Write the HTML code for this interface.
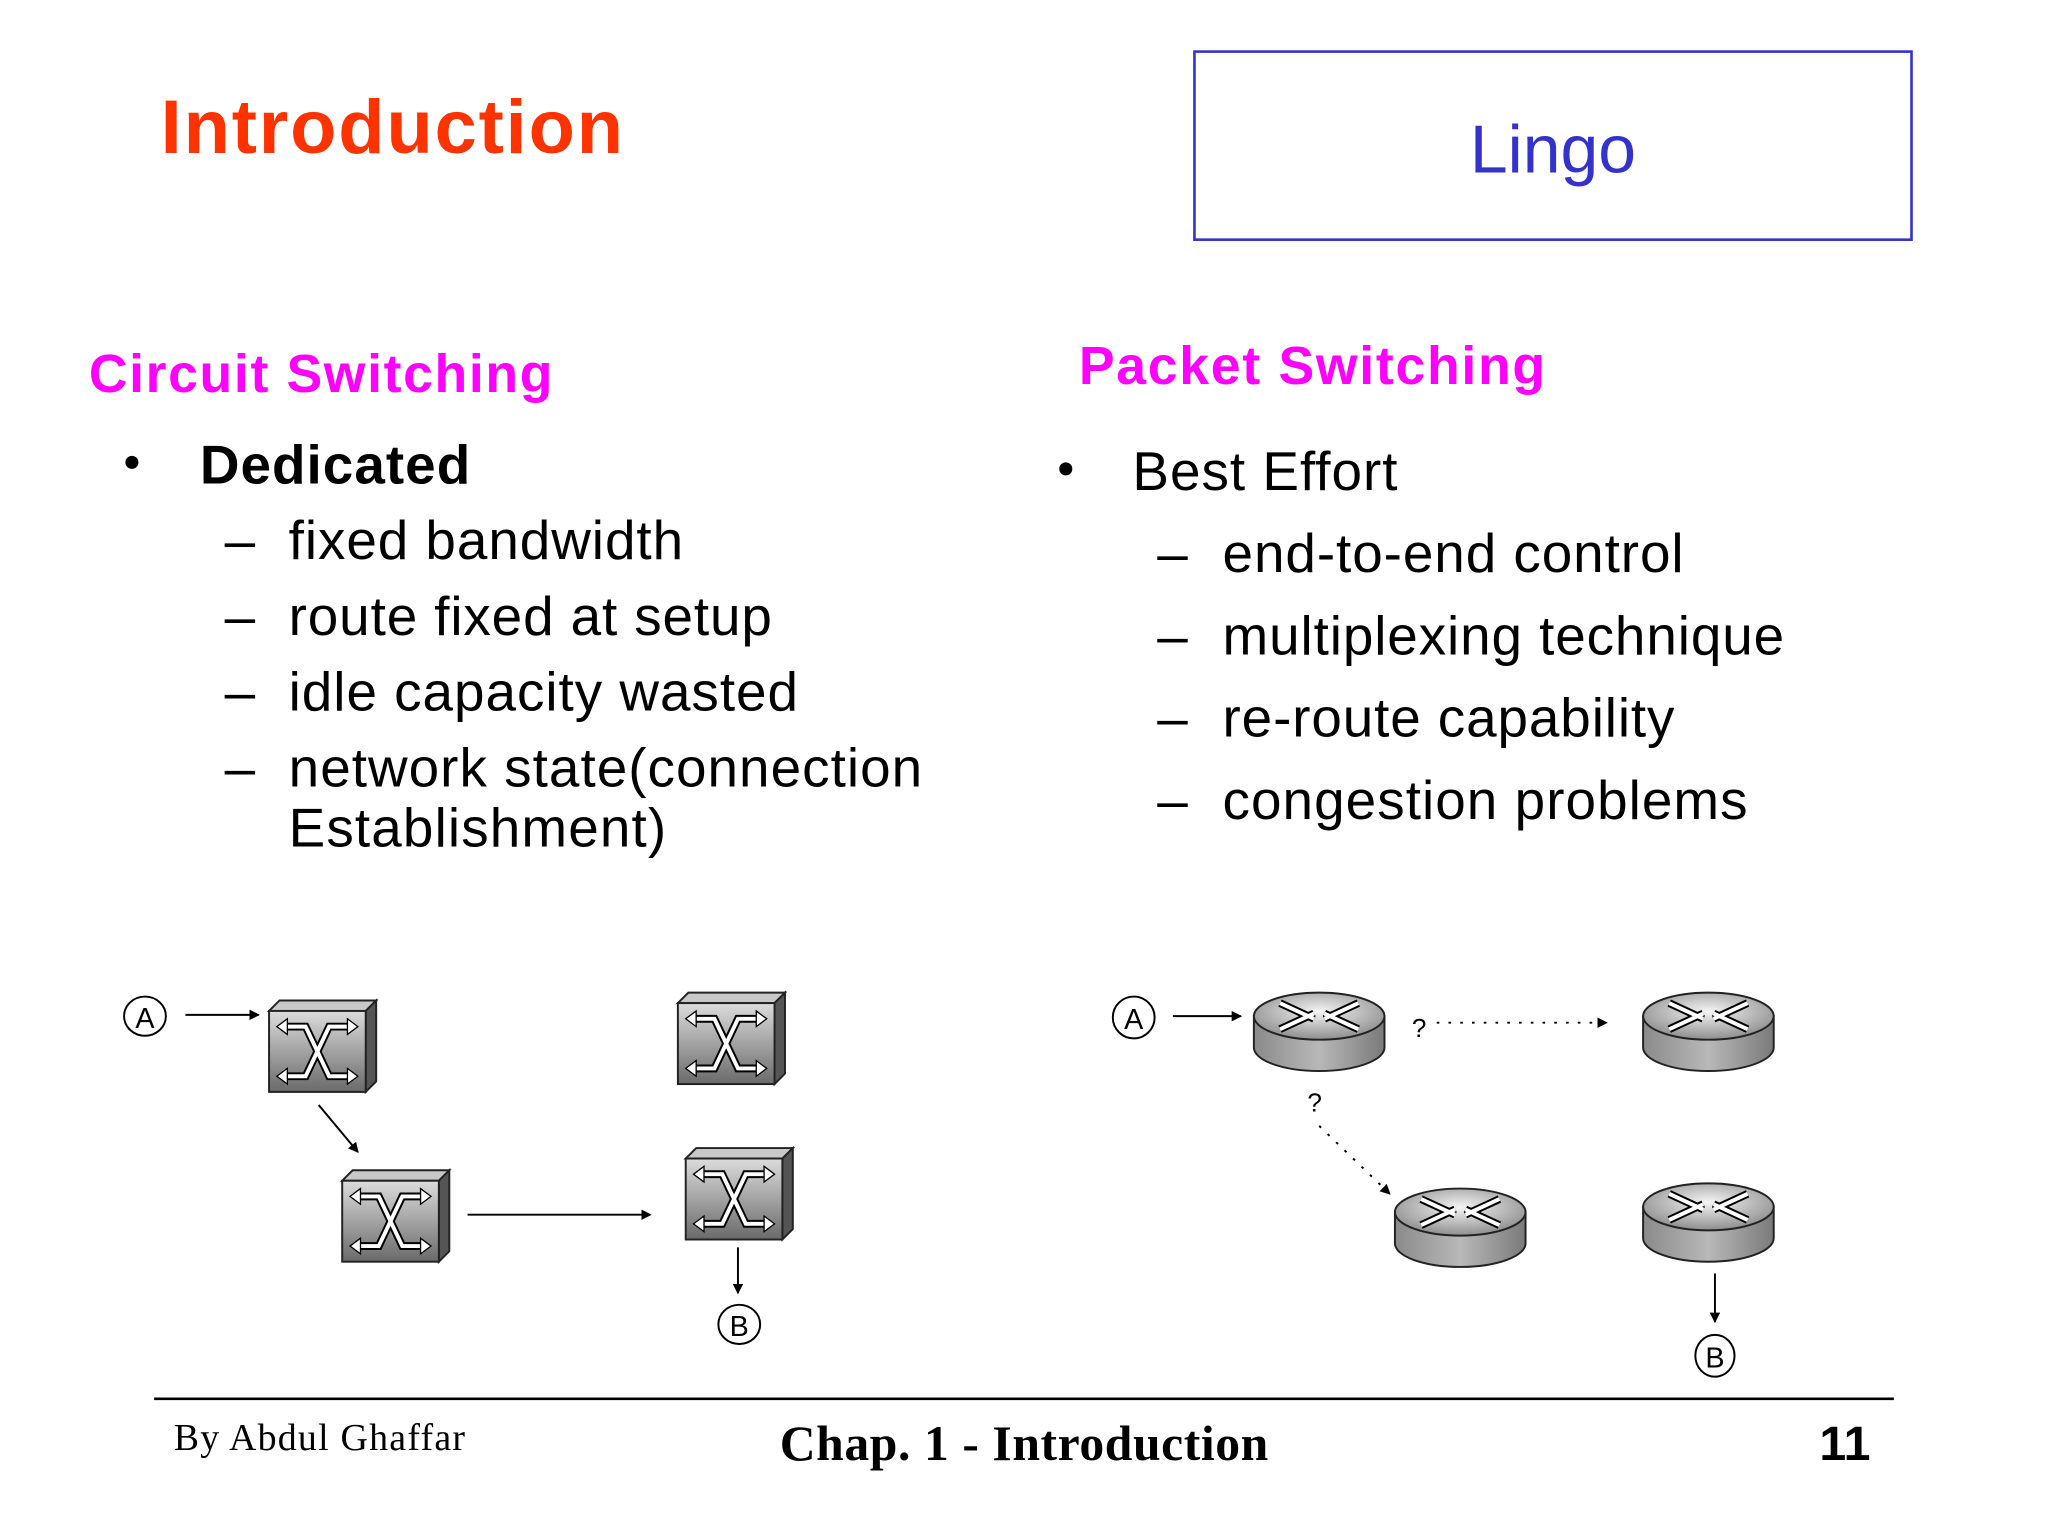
<!DOCTYPE html>
<html><head><meta charset="utf-8"><style>html,body{margin:0;padding:0;background:#fff}svg{display:block}</style></head>
<body>
<svg width="2048" height="1536" viewBox="0 0 1568 1176" xmlns="http://www.w3.org/2000/svg" font-family="Liberation Sans, sans-serif">
<defs>
<linearGradient id="sw" x1="0" y1="0" x2="0" y2="1"><stop offset="0" stop-color="#dcdcdc"/><stop offset="1" stop-color="#6a6a6a"/></linearGradient>
<linearGradient id="cyl" x1="0" y1="0" x2="1" y2="0"><stop offset="0" stop-color="#8a8a8a"/><stop offset="0.5" stop-color="#b8b8b8"/><stop offset="1" stop-color="#7a7a7a"/></linearGradient>
<radialGradient id="top" cx="0.5" cy="0.4" r="0.6"><stop offset="0" stop-color="#f4f4f4"/><stop offset="1" stop-color="#8e8e8e"/></radialGradient>
<marker id="ar" markerWidth="8" markerHeight="8" refX="7" refY="4" orient="auto" markerUnits="userSpaceOnUse"><path d="M0,0 L8,4 L0,8 z" fill="#000"/></marker>
<g id="switch">
<path d="M0,8 L8,0 L82,0 L74,8 z" fill="#c8c8c8" stroke="#222" stroke-width="1.5"/>
<path d="M74,8 L82,0 L82,62 L74,70 z" fill="#555" stroke="#222" stroke-width="1.5"/>
<rect x="0" y="8" width="74" height="62" fill="url(#sw)" stroke="#222" stroke-width="1.5"/>
<path d="M12,20 L28,20 L46,58 L62,58 M12,58 L28,58 L46,20 L62,20" fill="none" stroke="#000" stroke-width="6"/>
<path d="M12,20 L28,20 L46,58 L62,58 M12,58 L28,58 L46,20 L62,20" fill="none" stroke="#fff" stroke-width="3"/>
<path d="M6,20 l8,-6 v12 z M68,20 l-8,-6 v12 z M6,58 l8,-6 v12 z M68,58 l-8,-6 v12 z" fill="#fff" stroke="#000" stroke-width="1"/>
</g>
<g id="router">
<path d="M0,20 L0,44 A50,18 0 0 0 100,44 L100,20 z" fill="url(#cyl)" stroke="#222" stroke-width="1.5"/>
<ellipse cx="50" cy="20" rx="50" ry="18" fill="url(#top)" stroke="#222" stroke-width="1.5"/>
<path d="M20,10 L46,22 M80,30 L54,18 M20,30 L46,18 M80,10 L54,22" stroke="#000" stroke-width="6"/>
<path d="M20,10 L46,22 M80,30 L54,18 M20,30 L46,18 M80,10 L54,22" stroke="#fff" stroke-width="3"/>
</g>
</defs>
<rect width="1568" height="1176" fill="#fff"/>
<text x="123" y="117" font-size="58" font-weight="bold" fill="#ff3300" textLength="354">Introduction</text>
<rect x="914.5" y="39.5" width="549" height="144" fill="none" stroke="#3333cc" stroke-width="2"/>
<text x="1189" y="132" font-size="52" fill="#3333cc" text-anchor="middle">Lingo</text>
<text x="68" y="300" font-size="41" font-weight="bold" fill="#ff00ff" textLength="355">Circuit Switching</text>
<text x="826" y="294" font-size="41" font-weight="bold" fill="#ff00ff" textLength="357">Packet Switching</text>
<g font-size="42" fill="#000">
<circle cx="101" cy="354" r="5"/>
<text x="153" y="370" font-weight="bold" textLength="207">Dedicated</text>
<text x="172" y="428">–</text><text x="221" y="428" textLength="302">fixed bandwidth</text>
<text x="172" y="486">–</text><text x="221" y="486" textLength="370">route fixed at setup</text>
<text x="172" y="544">–</text><text x="221" y="544" textLength="390">idle capacity wasted</text>
<text x="172" y="602">–</text><text x="221" y="602" textLength="485">network state(connection</text>
<text x="221" y="648" textLength="289">Establishment)</text>
<circle cx="816" cy="359" r="5"/>
<text x="867" y="375" textLength="203">Best Effort</text>
<text x="886" y="438">–</text><text x="936" y="438" textLength="353">end-to-end control</text>
<text x="886" y="501">–</text><text x="936" y="501" textLength="430">multiplexing technique</text>
<text x="886" y="564">–</text><text x="936" y="564" textLength="346">re-route capability</text>
<text x="886" y="627">–</text><text x="936" y="627" textLength="402">congestion problems</text>
</g>
<use href="#switch" x="206" y="766"/>
<use href="#switch" x="519" y="760"/>
<use href="#switch" x="262" y="896"/>
<use href="#switch" x="525" y="879"/>
<g fill="none" stroke="#000" stroke-width="1.5">
<ellipse cx="111" cy="778" rx="16" ry="15"/>
<ellipse cx="566" cy="1014" rx="16" ry="15"/>
<line x1="142" y1="777" x2="198" y2="777" marker-end="url(#ar)"/>
<line x1="244" y1="846" x2="274" y2="882" marker-end="url(#ar)"/>
<line x1="358" y1="930" x2="498" y2="930" marker-end="url(#ar)"/>
<line x1="565" y1="955" x2="565" y2="990" marker-end="url(#ar)"/>
</g>
<text x="111" y="787" font-size="22" text-anchor="middle">A</text>
<text x="566" y="1023" font-size="22" text-anchor="middle">B</text>
<use href="#router" x="960" y="758"/>
<use href="#router" x="1258" y="758"/>
<use href="#router" x="1068" y="908"/>
<use href="#router" x="1258" y="904"/>
<g fill="none" stroke="#000" stroke-width="1.5">
<ellipse cx="868" cy="779" rx="16" ry="16"/>
<ellipse cx="1313" cy="1038" rx="15" ry="16"/>
<line x1="898" y1="778" x2="950" y2="778" marker-end="url(#ar)"/>
<line x1="1100" y1="783" x2="1230" y2="783" stroke-dasharray="2,7" marker-end="url(#ar)"/>
<line x1="1010" y1="862" x2="1064" y2="914" stroke-dasharray="2,7" marker-end="url(#ar)"/>
<line x1="1313" y1="975" x2="1313" y2="1012" marker-end="url(#ar)"/>
</g>
<text x="868" y="788" font-size="22" text-anchor="middle">A</text>
<text x="1313" y="1047" font-size="22" text-anchor="middle">B</text>
<text x="1081" y="794" font-size="20">?</text>
<text x="1001" y="851" font-size="20">?</text>
<line x1="118" y1="1071" x2="1450" y2="1071" stroke="#000" stroke-width="2"/>
<text x="133" y="1110" font-family="Liberation Serif, serif" font-size="29" textLength="223">By Abdul Ghaffar</text>
<text x="784" y="1118" font-family="Liberation Serif, serif" font-size="38" font-weight="bold" text-anchor="middle" textLength="374">Chap. 1 - Introduction</text>
<text x="1393" y="1118" font-size="37" font-weight="bold">11</text>
</svg>
</body></html>
